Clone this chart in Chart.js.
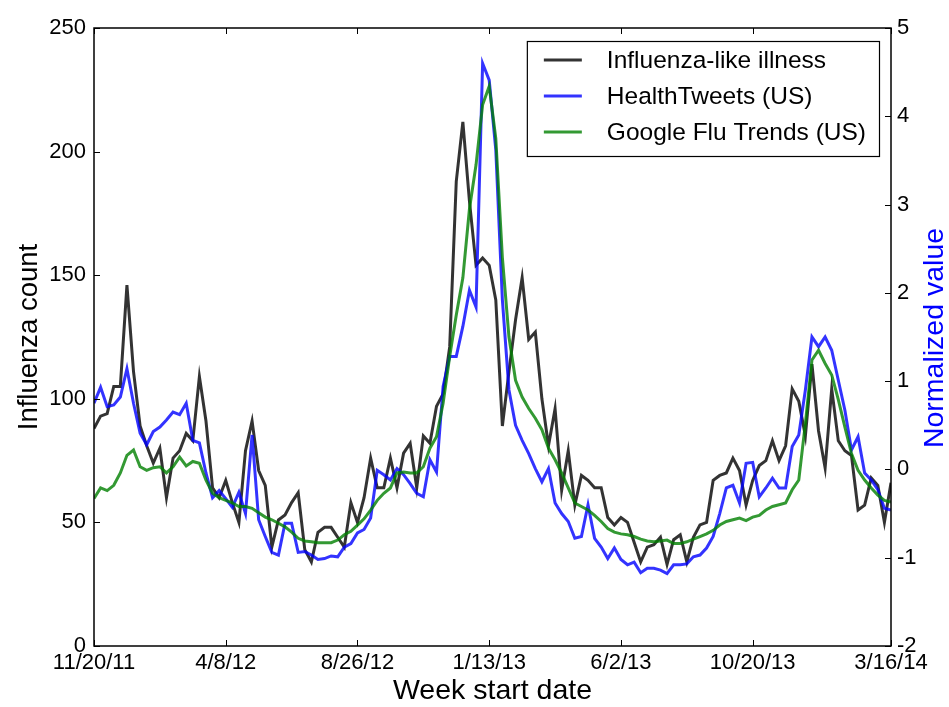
<!DOCTYPE html>
<html>
<head>
<meta charset="utf-8">
<script src="https://cdn.jsdelivr.net/npm/chart.js@4.4.1/dist/chart.umd.min.js"></script>
<style>
  html, body { margin: 0; padding: 0; background: #fff; }
</style>
</head>
<body>
<canvas id="chart" width="949" height="707"></canvas>
<script>
// x axis: week index from 11/20/11, one point per week
const tickWeeks = [0, 20, 40, 60, 80, 100, 121];
const tickLabels = ['11/20/11', '4/8/12', '8/26/12', '1/13/13', '6/2/13', '10/20/13', '3/16/14'];

// Influenza-like illness (left axis, counts)
const ili = [
  88, 93, 94, 105, 105, 146, 111, 89, 81, 74,
  80, 60, 76, 79, 86, 83, 109, 91, 64, 60,
  67, 58, 50, 79, 91, 71, 65, 40, 51, 53,
  58, 62, 39, 34, 46, 48, 48, 44, 40, 58,
  50, 60, 76, 64, 64, 76, 64, 78, 82, 64,
  85, 82, 97, 102, 121, 188, 212, 180, 154, 157,
  154, 140, 89, 111, 132, 149, 124, 127, 100, 81,
  96, 63, 79, 57, 69, 67, 64, 64, 52, 49,
  52, 50, 42, 34, 40, 41, 44, 33, 43, 45,
  34, 44, 49, 50, 67, 69, 70, 76, 71, 57,
  67, 73, 75, 83, 75, 81, 104, 99, 85, 114,
  87, 72, 104, 83, 79, 77, 55, 57, 68, 65,
  50, 66
];

// HealthTweets (US), normalized (right axis)
const healthTweets = [
  0.75, 0.93, 0.71, 0.73, 0.82, 1.14, 0.75, 0.41, 0.28, 0.43,
  0.48, 0.56, 0.65, 0.62, 0.75, 0.33, 0.30, -0.04, -0.32, -0.24,
  -0.33, -0.43, -0.26, -0.50, 0.39, -0.57, -0.76, -0.94, -0.97, -0.61,
  -0.61, -0.94, -0.93, -0.97, -1.02, -1.01, -0.98, -0.99, -0.88, -0.84,
  -0.72, -0.68, -0.55, -0.01, -0.06, -0.12, 0.01, -0.06, -0.16, -0.27,
  -0.31, 0.11, -0.03, 0.94, 1.28, 1.28, 1.62, 2.03, 1.84, 4.60,
  4.41, 3.62, 1.92, 0.90, 0.50, 0.33, 0.18, 0.01, -0.14, 0.01,
  -0.38, -0.50, -0.59, -0.78, -0.76, -0.40, -0.78, -0.88, -1.01, -0.89,
  -1.02, -1.08, -1.05, -1.17, -1.12, -1.12, -1.14, -1.18, -1.08, -1.08,
  -1.07, -0.99, -0.97, -0.89, -0.76, -0.50, -0.21, -0.18, -0.38, 0.07,
  0.08, -0.31, -0.21, -0.10, -0.21, -0.21, 0.26, 0.39, 0.90, 1.50,
  1.39, 1.50, 1.35, 1.01, 0.67, 0.22, 0.37, -0.04, -0.12, -0.23,
  -0.44, -0.46
];

// Google Flu Trends (US), normalized (right axis)
const googleFlu = [
  -0.33, -0.21, -0.24, -0.18, -0.04, 0.16, 0.22, 0.03, -0.01, 0.02,
  0.03, -0.04, 0.03, 0.14, 0.04, 0.09, 0.07, -0.12, -0.27, -0.32,
  -0.35, -0.38, -0.42, -0.42, -0.44, -0.49, -0.54, -0.57, -0.61, -0.65,
  -0.71, -0.78, -0.81, -0.82, -0.83, -0.83, -0.83, -0.80, -0.74, -0.70,
  -0.63, -0.56, -0.46, -0.35, -0.27, -0.21, -0.04, -0.03, -0.04, -0.04,
  0.03, 0.24, 0.37, 0.75, 1.28, 1.75, 2.17, 2.95, 3.45, 4.13,
  4.34, 3.75, 2.40, 1.50, 1.01, 0.82, 0.69, 0.58, 0.45, 0.24,
  0.11, -0.04, -0.21, -0.38, -0.42, -0.46, -0.52, -0.59, -0.67, -0.71,
  -0.73, -0.74, -0.76, -0.79, -0.81, -0.82, -0.81, -0.80, -0.84, -0.84,
  -0.82, -0.79, -0.76, -0.73, -0.69, -0.63, -0.59, -0.57, -0.55, -0.58,
  -0.54, -0.52, -0.46, -0.42, -0.40, -0.38, -0.23, -0.12, 0.52, 1.24,
  1.35, 1.20, 1.07, 0.79, 0.48, 0.18, -0.01, -0.12, -0.21, -0.29,
  -0.35, -0.37
];

const seriesNames = ['Influenza-like illness', 'HealthTweets (US)', 'Google Flu Trends (US)'];
const seriesColors = ['rgba(0,0,0,0.8)', 'rgba(0,0,255,0.8)', 'rgba(0,128,0,0.8)'];

const font = 'Liberation Sans, Arial, Helvetica, sans-serif';
Chart.defaults.font.family = font;
Chart.defaults.color = '#000';

function toPoints(arr) {
  return arr.map((v, i) => ({ x: i, y: v }));
}

// frame, inward tick marks, right axis title and legend
const decorations = {
  id: 'decorations',
  afterDatasetsDraw(chart) {
    const ctx = chart.ctx;
    const a = chart.chartArea;
    const sx = chart.scales.x, yl = chart.scales.y, yr = chart.scales.y2;
    const tl = 6;
    ctx.save();
    ctx.strokeStyle = '#000';
    ctx.lineWidth = 1;
    ctx.beginPath();
    tickWeeks.forEach(w => {
      const px = Math.round(sx.getPixelForValue(w)) + 0.5;
      ctx.moveTo(px, a.bottom); ctx.lineTo(px, a.bottom - tl);
      ctx.moveTo(px, a.top); ctx.lineTo(px, a.top + tl);
    });
    yl.ticks.forEach(t => {
      const py = Math.round(yl.getPixelForValue(t.value)) + 0.5;
      ctx.moveTo(a.left, py); ctx.lineTo(a.left + tl, py);
    });
    yr.ticks.forEach(t => {
      const py = Math.round(yr.getPixelForValue(t.value)) + 0.5;
      ctx.moveTo(a.right, py); ctx.lineTo(a.right - tl, py);
    });
    ctx.stroke();
    ctx.lineWidth = 1.5;
    ctx.strokeRect(a.left, a.top, a.right - a.left, a.bottom - a.top);

    // right axis title, reading bottom to top
    ctx.fillStyle = '#0000ff';
    ctx.font = '28.5px ' + font;
    ctx.textAlign = 'center';
    ctx.textBaseline = 'middle';
    ctx.translate(935, (a.top + a.bottom) / 2 + 1);
    ctx.rotate(-Math.PI / 2);
    ctx.fillText('Normalized value', 0, 0);
    ctx.restore();

    // legend
    ctx.save();
    ctx.font = '24.5px ' + font;
    let maxW = 0;
    seriesNames.forEach(n => { maxW = Math.max(maxW, ctx.measureText(n).width); });
    const rowH = 36;
    const boxW = 17 + 38 + 25 + maxW + 13;
    const boxH = 115;
    const bx = a.right - 12 - boxW;
    const by = a.top + 13;
    ctx.fillStyle = '#fff';
    ctx.fillRect(bx, by, boxW, boxH);
    ctx.strokeStyle = '#000';
    ctx.lineWidth = 1.2;
    ctx.strokeRect(bx + 0.5, by + 0.5, boxW, boxH);
    seriesNames.forEach((n, i) => {
      const cy = by + 19 + i * rowH;
      ctx.strokeStyle = seriesColors[i];
      ctx.lineWidth = 3;
      ctx.beginPath();
      ctx.moveTo(bx + 17, cy);
      ctx.lineTo(bx + 55, cy);
      ctx.stroke();
      ctx.fillStyle = '#000';
      ctx.textAlign = 'left';
      ctx.textBaseline = 'middle';
      ctx.fillText(n, bx + 80, cy + 1);
    });
    ctx.restore();
  }
};

const ctx = document.getElementById('chart').getContext('2d');
const myChart = new Chart(ctx, {
  type: 'line',
  data: {
    datasets: [
      { label: seriesNames[0], data: toPoints(ili), yAxisID: 'y', order: 2,
        borderColor: seriesColors[0], borderWidth: 3, pointRadius: 0, tension: 0, fill: false },
      { label: seriesNames[1], data: toPoints(healthTweets), yAxisID: 'y2', order: 1,
        borderColor: seriesColors[1], borderWidth: 3, pointRadius: 0, tension: 0, fill: false },
      { label: seriesNames[2], data: toPoints(googleFlu), yAxisID: 'y2', order: 0,
        borderColor: seriesColors[2], borderWidth: 3, pointRadius: 0, tension: 0, fill: false }
    ]
  },
  options: {
    responsive: false,
    animation: false,
    layout: { padding: { top: 28, left: 0, right: 0, bottom: 0 } },
    plugins: { legend: { display: false }, tooltip: { enabled: false } },
    scales: {
      x: {
        type: 'linear', min: 0, max: 121,
        afterBuildTicks: scale => { scale.ticks = tickWeeks.map(v => ({ value: v })); },
        afterFit: scale => { scale.height = 61; },
        ticks: {
          autoSkip: false, maxRotation: 0, padding: 4,
          font: { size: 22 }, color: '#000',
          callback: value => tickLabels[tickWeeks.indexOf(value)]
        },
        grid: { display: false, drawTicks: false },
        border: { display: false },
        title: { display: true, text: 'Week start date', font: { size: 28.5, lineHeight: 1 },
                 color: '#000', padding: { top: 0, bottom: 2 } }
      },
      y: {
        position: 'left', min: 0, max: 250,
        afterFit: scale => { scale.width = 94; },
        ticks: { stepSize: 50, padding: 8, font: { size: 22 }, color: '#000' },
        grid: { display: false, drawTicks: false },
        border: { display: false },
        title: { display: true, text: 'Influenza count', font: { size: 27.5, lineHeight: 1 },
                 color: '#000', padding: { top: 16, bottom: 0 } }
      },
      y2: {
        position: 'right', min: -2, max: 5,
        afterFit: scale => { scale.width = 58; },
        ticks: { stepSize: 1, padding: 6, font: { size: 22 }, color: '#000' },
        grid: { display: false, drawTicks: false },
        border: { display: false }
      }
    }
  },
  plugins: [decorations]
});
</script>
</body>
</html>
